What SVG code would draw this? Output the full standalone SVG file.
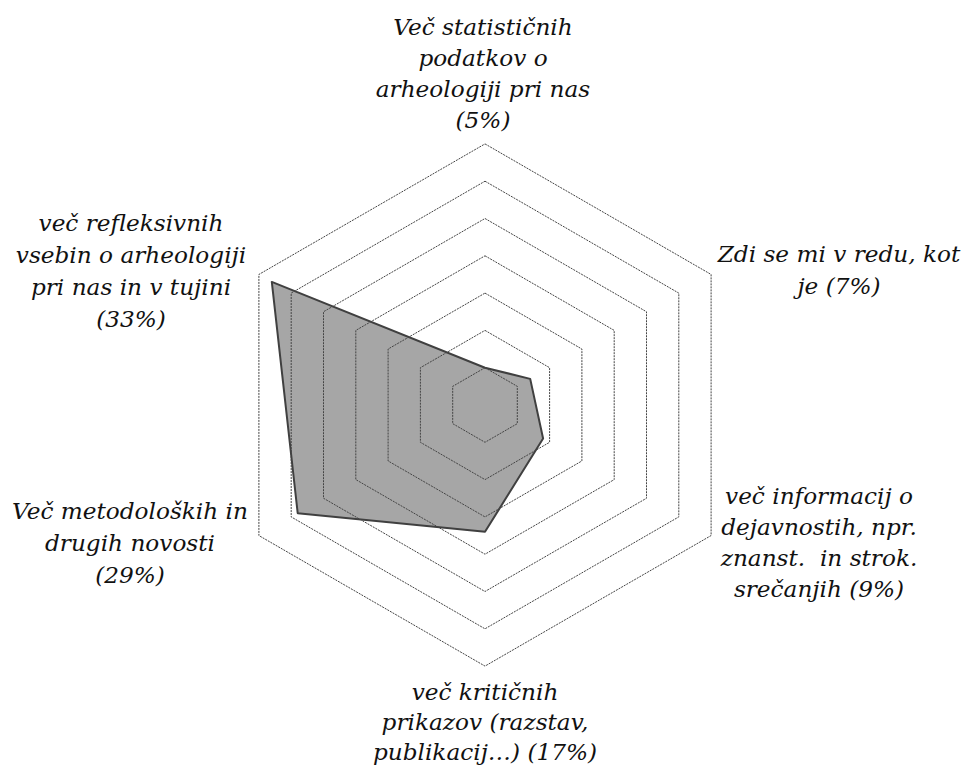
<svg xmlns="http://www.w3.org/2000/svg" width="968" height="767" viewBox="0 0 968 767">
<style>
.grid{fill:none;stroke:#444;stroke-width:1;stroke-dasharray:2 1}
.series{fill:#a6a6a6;stroke:#404040;stroke-width:2;stroke-linejoin:round}
.lbl{font-family:"DejaVu Serif","Liberation Serif",serif;font-style:italic;font-size:23.2px;fill:#111;text-anchor:middle}
</style>
<rect width="968" height="767" fill="#fff"/>
<g id="series">
<polygon class="series" points="485,367.7 530.2,378.9 543.1,438.55 485,531.8 297.7,513.15 271.8,281.9"/>
</g>
<g id="gridlines">
<polygon class="grid" points="485,367.7 517.3,386.35 517.3,423.65 485,442.3 452.7,423.65 452.7,386.35"/>
<polygon class="grid" points="485,330.4 549.6,367.7 549.6,442.3 485,479.6 420.4,442.3 420.4,367.7"/>
<polygon class="grid" points="485,293.1 581.9,349.05 581.9,460.95 485,516.9 388.1,460.95 388.1,349.05"/>
<polygon class="grid" points="485,255.8 614.2,330.4 614.2,479.6 485,554.2 355.8,479.6 355.8,330.4"/>
<polygon class="grid" points="485,218.5 646.5,311.75 646.5,498.25 485,591.5 323.5,498.25 323.5,311.75"/>
<polygon class="grid" points="485,181.2 678.8,293.1 678.8,516.9 485,628.8 291.2,516.9 291.2,293.1"/>
<polygon class="grid" points="485,143.9 711.1,274.45 711.1,535.55 485,666.1 258.9,535.55 258.9,274.45"/>
</g>
<g id="label-top">
<text class="lbl" x="483" y="35">Več statističnih</text>
<text class="lbl" x="483" y="66">podatkov o</text>
<text class="lbl" x="483" y="97">arheologiji pri nas</text>
<text class="lbl" x="483" y="128">(5%)</text>
</g>
<g id="label-upper-right">
<text class="lbl" x="839" y="262">Zdi se mi v redu, kot</text>
<text class="lbl" x="839" y="294">je (7%)</text>
</g>
<g id="label-lower-right">
<text class="lbl" x="819" y="504">več informacij o</text>
<text class="lbl" x="819" y="535">dejavnostih, npr.</text>
<text class="lbl" x="819" y="566" xml:space="preserve">znanst.  in strok.</text>
<text class="lbl" x="819" y="597">srečanjih (9%)</text>
</g>
<g id="label-bottom">
<text class="lbl" x="485" y="700">več kritičnih</text>
<text class="lbl" x="485" y="730">prikazov (razstav,</text>
<text class="lbl" x="485" y="760">publikacij…) (17%)</text>
</g>
<g id="label-lower-left">
<text class="lbl" x="130" y="519">Več metodoloških in</text>
<text class="lbl" x="130" y="551">drugih novosti</text>
<text class="lbl" x="130" y="583">(29%)</text>
</g>
<g id="label-upper-left">
<text class="lbl" x="131" y="231">več refleksivnih</text>
<text class="lbl" x="131" y="263">vsebin o arheologiji</text>
<text class="lbl" x="131" y="295">pri nas in v tujini</text>
<text class="lbl" x="131" y="327">(33%)</text>
</g>
</svg>
